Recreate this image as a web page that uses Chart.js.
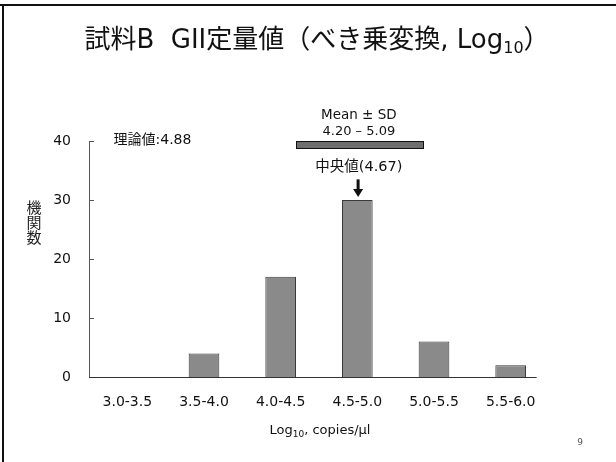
<!DOCTYPE html>
<html>
<head>
<meta charset="utf-8">
<script src="https://cdn.jsdelivr.net/npm/chart.js@4"></script>
<style>
html,body{margin:0;padding:0;background:#fff;}
#wrap{width:616px;height:462px;}
</style>
</head>
<body>
<div id="wrap"><canvas id="c" width="616" height="462"></canvas></div>
<script>
// ---- data ----
const categories = ['3.0-3.5', '3.5-4.0', '4.0-4.5', '4.5-5.0', '5.0-5.5', '5.5-6.0'];
const counts = [0, 4, 17, 30, 6, 2];
const yTickValues = [0, 10, 20, 30, 40];
const theoreticalValue = 4.88;
const meanMinusSD = 4.20;
const meanPlusSD = 5.09;
const medianValue = 4.67;
const yAxisTitle = '機関数';
const pageNumber = '9';

const LATIN = '"DejaVu Sans", "Noto Sans CJK JP", sans-serif';
const CJK = '"Noto Sans CJK JP", "DejaVu Sans", sans-serif';

function drawSub(ctx, parts, x, y, align) {
  let total = 0;
  parts.forEach(p => { ctx.font = p.f; p.w = ctx.measureText(p.t).width + (p.gap || 0); total += p.w; });
  let cx = align === 'center' ? x - total / 2 : x;
  ctx.textAlign = 'left';
  parts.forEach(p => { ctx.font = p.f; ctx.fillText(p.t, cx, y + (p.dy || 0)); cx += p.w; });
}

const decor = {
  id: 'decor',
  beforeDraw(chart) {
    const ctx = chart.ctx;
    ctx.save();
    ctx.fillStyle = '#fff';
    ctx.fillRect(0, 0, chart.width, chart.height);
    ctx.fillStyle = '#111';
    ctx.fillRect(0, 4, chart.width, 2);
    ctx.fillRect(2, 4, 2, chart.height - 4);
    ctx.restore();
  },
  afterDraw(chart) {
    const ctx = chart.ctx;
    const xs = chart.scales.x, ys = chart.scales.y;
    const area = chart.chartArea;
    ctx.save();
    ctx.fillStyle = '#111';
    // title
    ctx.textBaseline = 'alphabetic';
    drawSub(ctx, [
      {t: '試料', f: '26px ' + CJK},
      {t: 'B  GII', f: '26px ' + LATIN},
      {t: '定量値（べき乗変換', f: '26px ' + CJK},
      {t: ', Log', f: '26px ' + LATIN},
      {t: '10', f: '16px ' + LATIN, dy: 5},
      {t: '）', f: '26px ' + CJK}
    ], 317, 48, 'center');
    ctx.textBaseline = 'middle';

    // axes lines
    ctx.strokeStyle = '#333';
    ctx.lineWidth = 1;
    ctx.beginPath();
    ctx.moveTo(area.left, ys.getPixelForValue(0) + 0.5);
    ctx.lineTo(xs.getPixelForValue(categories.length - 1) + 26, ys.getPixelForValue(0) + 0.5);
    ctx.stroke();
    ctx.strokeStyle = '#555';
    ctx.beginPath();
    ctx.moveTo(Math.round(area.left) + 0.5, ys.getPixelForValue(40));
    ctx.lineTo(Math.round(area.left) + 0.5, ys.getPixelForValue(0));
    ctx.stroke();
    yTickValues.forEach(v => {
      if (v === 0) return;
      const py = Math.round(ys.getPixelForValue(v)) + 0.5;
      ctx.beginPath();
      ctx.moveTo(Math.round(area.left), py);
      ctx.lineTo(Math.round(area.left) + 5, py);
      ctx.stroke();
    });

    // y title stacked
    ctx.font = '15px ' + CJK;
    ctx.textAlign = 'center';
    ctx.fillStyle = '#222';
    [...yAxisTitle].forEach((ch, i) => ctx.fillText(ch, 34, 207 + i * 15));

    // x title
    ctx.fillStyle = '#111';
    drawSub(ctx, [
      {t: 'Log', f: '13px ' + LATIN},
      {t: '10', f: '9px ' + LATIN, dy: 4},
      {t: ', copies/μl', f: '13px ' + LATIN}
    ], 320, 431, 'center');

    // theoretical value
    ctx.textAlign = 'left';
    ctx.font = '14px ' + LATIN;
    ctx.fillText('理論値:' + theoreticalValue.toFixed(2), xs.getPixelForValue(-0.18), ys.getPixelForValue(40) - 1);

    // mean +- SD
    const mx = xs.getPixelForValue(3.02);
    ctx.textAlign = 'center';
    ctx.font = '13.5px ' + LATIN;
    ctx.fillText('Mean ± SD', mx, ys.getPixelForValue(44.3));
    ctx.font = '13px ' + LATIN;
    ctx.fillText(meanMinusSD.toFixed(2) + ' – ' + meanPlusSD.toFixed(2), mx, ys.getPixelForValue(41.6));
    const bx0 = xs.getPixelForValue(2.206), bx1 = xs.getPixelForValue(3.862);
    const by0 = ys.getPixelForValue(39.95), by1 = ys.getPixelForValue(38.75);
    ctx.fillStyle = '#6e6e6e';
    ctx.fillRect(bx0, by0, bx1 - bx0, by1 - by0);
    ctx.strokeStyle = '#111';
    ctx.strokeRect(Math.round(bx0) + 0.5, Math.round(by0) + 0.5, Math.round(bx1 - bx0), Math.round(by1 - by0));

    // median
    ctx.fillStyle = '#111';
    ctx.font = '14.5px ' + LATIN;
    ctx.fillText('中央値(' + medianValue.toFixed(2) + ')', mx, ys.getPixelForValue(35.6));
    const ax = xs.getPixelForValue(3.01);
    const ay0 = ys.getPixelForValue(33.5), ay1 = ys.getPixelForValue(30.5);
    ctx.fillRect(ax - 1.5, ay0, 3, (ay1 - ay0) - 6);
    ctx.beginPath();
    ctx.moveTo(ax - 5, ay1 - 8);
    ctx.lineTo(ax + 5, ay1 - 8);
    ctx.lineTo(ax, ay1);
    ctx.closePath();
    ctx.fill();

    // page number
    ctx.fillStyle = '#555';
    ctx.font = '9px ' + LATIN;
    ctx.textAlign = 'center';
    ctx.fillText(pageNumber, 580, 443);
    ctx.restore();
  }
};

new Chart(document.getElementById('c'), {
  type: 'bar',
  data: {
    labels: categories,
    datasets: [{
      data: counts,
      backgroundColor: '#8a8a8a',
      borderColor: '#3a3a3a',
      borderWidth: 1,
      barPercentage: 0.4,
      categoryPercentage: 1.0
    }]
  },
  options: {
    responsive: false,
    animation: false,
    devicePixelRatio: 1,
    layout: { padding: { left: 0, top: 141, right: 67, bottom: 0 } },
    plugins: { legend: { display: false }, tooltip: { enabled: false }, title: { display: false } },
    scales: {
      x: {
        grid: { display: false, drawTicks: false },
        border: { display: false },
        ticks: { color: '#111', font: { family: LATIN, size: 14 }, padding: 17, maxRotation: 0 },
        afterFit(s) { s.height = 85; }
      },
      y: {
        min: 0, max: 40,
        afterBuildTicks(s) { s.ticks = yTickValues.map(v => ({ value: v })); },
        grid: { display: false, drawTicks: false },
        border: { display: false },
        ticks: { color: '#111', font: { family: LATIN, size: 14 }, padding: 18 },
        afterFit(s) { s.width = 89; }
      }
    }
  },
  plugins: [decor]
});
</script>
</body>
</html>
